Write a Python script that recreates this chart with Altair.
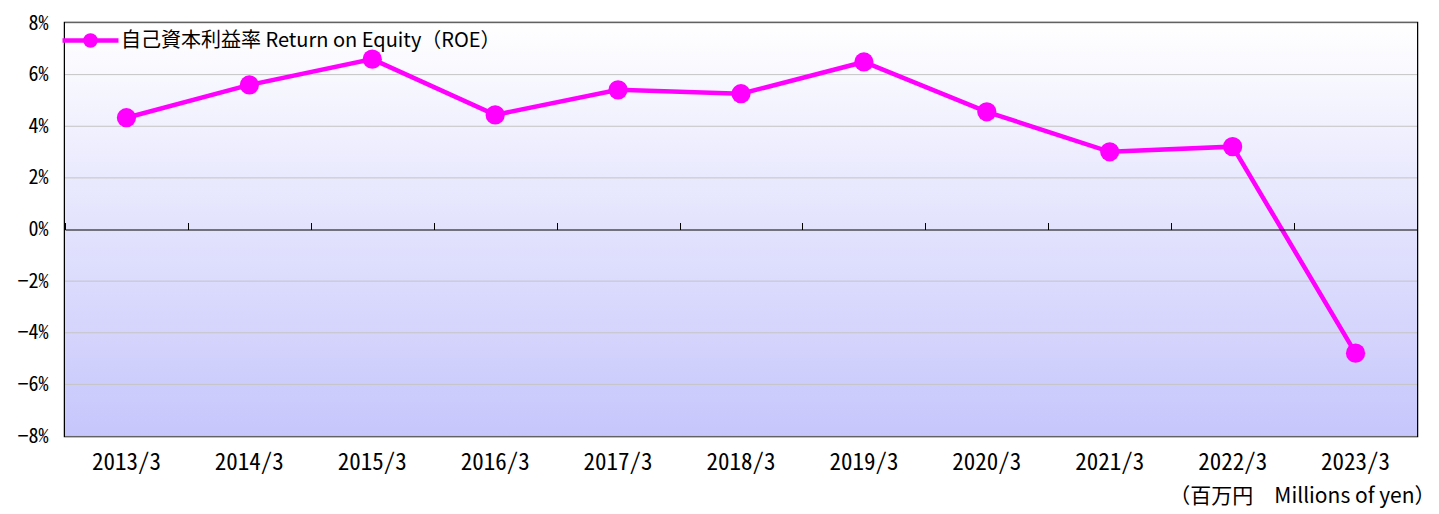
import altair as alt
import pandas as pd

years = ["2013/3", "2014/3", "2015/3", "2016/3", "2017/3", "2018/3",
         "2019/3", "2020/3", "2021/3", "2022/3", "2023/3"]
roe = [4.33, 5.60, 6.60, 4.44, 5.41, 5.26, 6.49, 4.56, 3.01, 3.21, -4.79]
series_name = "自己資本利益率 Return on Equity（ROE）"
y_ticks = [-8, -6, -4, -2, 0, 2, 4, 6, 8]
unit_note = "（百万円　Millions of yen）"

W, H = 1352, 413
FONT = "Noto Sans CJK JP"
NUMFONT = "Noto Sans Mono CJK JP"
MAGENTA = "#ff00ff"

df = pd.DataFrame({"year": years, "roe": roe, "series": [series_name] * len(years)})
grid_df = pd.DataFrame({"v": [v for v in y_ticks if v != 0]})

x_scale = alt.Scale(domain=years, paddingInner=0, paddingOuter=0)
y_scale = alt.Scale(domain=[-8, 8], nice=False)

bg = alt.Chart(alt.Data(values=[{}])).mark_rect(
    fill=alt.Gradient(gradient="linear",
                      stops=[alt.GradientStop(color="#ffffff", offset=0),
                             alt.GradientStop(color="#c6c6fc", offset=1)],
                      x1=0, x2=0, y1=0, y2=1)
).encode(x=alt.value(0), x2=alt.value(W), y=alt.value(0), y2=alt.value(H))

grid = alt.Chart(grid_df).mark_rule(color="#c4c4c4", strokeWidth=1).encode(
    x=alt.value(0), x2=alt.value(W),
    y=alt.Y("v:Q", scale=y_scale),
)

# invisible layer carrying the zero-line axis with category-boundary ticks
zero_axis = alt.Chart(df).mark_point(opacity=0).encode(
    x=alt.X("year:N", scale=x_scale, sort=years,
            axis=alt.Axis(orient="top", offset=-H / 2, labels=False, title=None,
                          tickBand="extent", tickSize=7, tickColor="black",
                          domainColor="black", domainWidth=1.2, tickWidth=1,
                          grid=False, zindex=1)),
    y=alt.Y("roe:Q", scale=y_scale),
)

symbol_path = "M-1,0H1 M-0.18,0A0.18,0.18 0 1,0 0.18,0A0.18,0.18 0 1,0 -0.18,0Z"

line = alt.Chart(df).mark_line(strokeWidth=4.5).encode(
    x=alt.X("year:N", scale=x_scale, sort=years,
            axis=alt.Axis(orient="bottom", title=None, labelAngle=0, ticks=False,
                          domain=False, labelPadding=15, labelFontSize=23,
                          labelColor="black", labelFont=NUMFONT, grid=False)),
    y=alt.Y("roe:Q", scale=y_scale,
            axis=alt.Axis(values=y_ticks, title=None, domain=False, ticks=False,
                          labelPadding=17, labelFontSize=20, labelColor="black",
                          labelFont=NUMFONT, grid=False,
                          labelExpr="replace(toString(datum.value), '-', '−') + '%'")),
    color=alt.Color("series:N", scale=alt.Scale(range=[MAGENTA]),
                    legend=alt.Legend(title=None, orient="none", legendX=-5, legendY=-13,
                                      symbolType=symbol_path, symbolSize=3136,
                                      symbolStrokeWidth=4.5, symbolFillColor=MAGENTA,
                                      symbolStrokeColor=MAGENTA, labelFontSize=20,
                                      labelFont=FONT, labelColor="black", padding=0,
                                      labelOffset=0, labelLimit=0)),
)

points = alt.Chart(df).mark_circle(size=370, opacity=1, color=MAGENTA).encode(
    x=alt.X("year:N", scale=x_scale, sort=years, axis=None),
    y=alt.Y("roe:Q", scale=y_scale),
)

chart = alt.layer(bg, grid, zero_axis, line, points).resolve_axis(x="independent").properties(
    width=W, height=H,
    padding={"left": 57, "top": 15, "right": 14, "bottom": 80},
    autosize=alt.AutoSizeParams(type="none"),
    title=alt.TitleParams(unit_note, orient="bottom", anchor="end", fontSize=21,
                          fontWeight="normal", font=FONT, color="black",
                          offset=12, dx=18),
).configure_view(stroke="black", strokeWidth=2.5)

chart.save("out.html", embed_options={"renderer": "svg", "actions": False})
